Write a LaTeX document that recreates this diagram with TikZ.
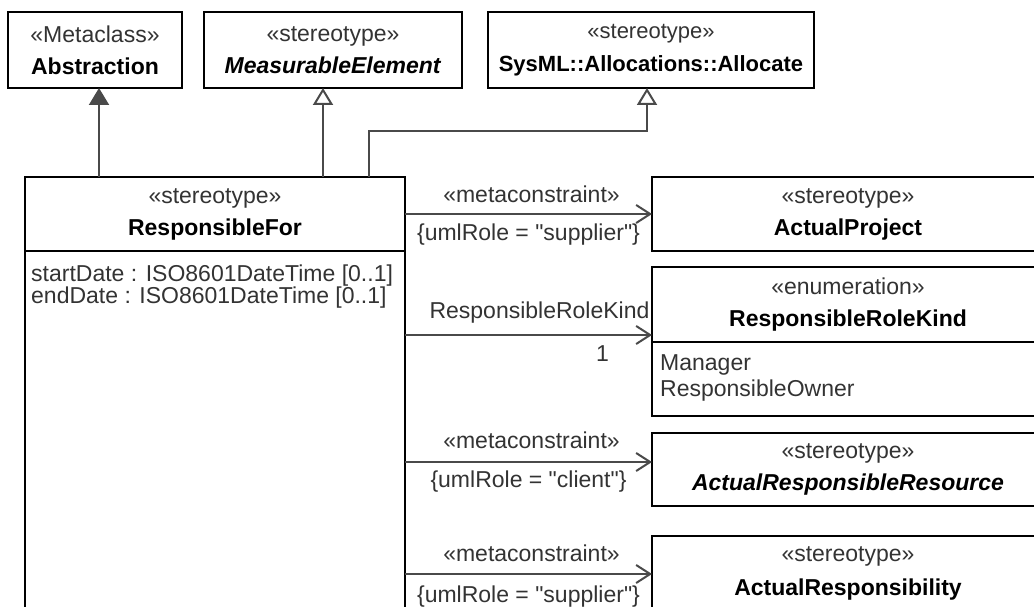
\documentclass[tikz,border=0pt]{standalone}
\usepackage{fontspec}
\setmainfont{Liberation Sans}
\newfontfamily\plainqf{Liberation Sans}
\usetikzlibrary{arrows.meta}
\definecolor{linegray}{HTML}{4A4A4A}
\definecolor{txtgray}{HTML}{333333}
\newcommand{\dq}{{\plainqf\char34}}
\begin{document}
\begin{tikzpicture}[x=1pt,y=-1pt,
  box/.style={draw=black, line width=2.2pt, fill=white, inner sep=0pt, outer sep=0pt,
    align=center, font=\fontsize{23}{32}\selectfont},
  txt/.style={inner sep=0pt, font=\fontsize{23}{24}\selectfont, text=txtgray},
  gen/.style={draw=linegray, line width=2pt, -{Triangle[open, length=17pt, width=20pt, fill=white]}},
  genf/.style={draw=linegray, line width=2pt, -{Triangle[length=17pt, width=20pt]}},
  assoc/.style={draw=linegray, line width=2pt, -{Straight Barb[length=14pt, width=18pt, line width=2pt]}}
]
\useasboundingbox (0,0) rectangle (1034,607);
\clip (0,0) rectangle (1034,607);
\fill[white] (0,0) rectangle (1034,607);

% top boxes
\node[box, minimum width=174pt, minimum height=76pt] (abs) at (95,50)
  {{\color{txtgray}«Metaclass»}\\\textbf{Abstraction}};
\node[box, minimum width=258pt, minimum height=76pt] (me) at (333,50)
  {{\color{txtgray}«stereotype»}\\\textbf{\itshape MeasurableElement}};
\node[box, minimum width=326pt, minimum height=76pt, font=\fontsize{22}{33}\selectfont] (alloc) at (651,50)
  {{\color{txtgray}«stereotype»}\\\textbf{SysML::Allocations::Allocate}};

% ResponsibleFor
\node[box, minimum width=380pt, minimum height=374pt] (rfbody) at (215,438) {};
\node[box, minimum width=380pt, minimum height=74pt] (rf) at (215,214)
  {{\color{txtgray}«stereotype»}\\\textbf{ResponsibleFor}};
\node[txt, anchor=base west] (attr1) at (31,281) {startDate : ISO8601DateTime [0..1]};
\node[txt, anchor=base west] (attr2) at (31,303) {endDate : ISO8601DateTime [0..1]};

% right boxes
\node[box, minimum width=392pt, minimum height=74pt] (ap) at (848,214)
  {{\color{txtgray}«stereotype»}\\\textbf{ActualProject}};
\node[box, minimum width=392pt, minimum height=74pt] (rrkbody) at (848,379) {};
\node[box, minimum width=392pt, minimum height=75pt] (rrk) at (848,304.5)
  {{\color{txtgray}«enumeration»}\\\textbf{ResponsibleRoleKind}};
\node[txt, anchor=base west] (lit1) at (660,370) {Manager};
\node[txt, anchor=base west] (lit2) at (660,396) {ResponsibleOwner};
\node[box, minimum width=392pt, minimum height=73pt] (arr) at (848,469.5)
  {{\color{txtgray}«stereotype»}\\\textbf{\itshape ActualResponsibleResource}};
\node[box, minimum width=392pt, minimum height=89pt] (aresp) at (848,580.5)
  {};
\node[txt, text=txtgray] (arespst) at (848,556) {«stereotype»};
\node[txt, text=black, font=\fontsize{23}{24}\selectfont\bfseries] (arespn) at (848,590) {ActualResponsibility};

% generalizations
\draw[genf] ([xshift=4pt]abs.south |- rf.north) -- ([xshift=4pt]abs.south);
\draw[gen] ([xshift=-10pt]me.south |- rf.north) -- ([xshift=-10pt]me.south);
\coordinate (bend) at (369,131);
\draw[gen] (bend |- rf.north) -- (bend) -- ([xshift=-4pt]alloc.south |- bend) -- ([xshift=-4pt]alloc.south);

% associations / metaconstraints
\draw[assoc] (rf.east |- ap.west) -- (ap.west)
  node[midway, txt, yshift=20pt, xshift=3pt] (m1) {«metaconstraint»}
  node[midway, txt, yshift=-21pt] (c1) {\{umlRole = \dq supplier\dq\}};
\coordinate (a2) at ([yshift=-84pt]rfbody.north east);
\draw[assoc] (a2) -- (a2 -| rrk.west)
  node[midway, txt, yshift=22pt, xshift=11pt] (m2) {ResponsibleRoleKind}
  node[pos=0.8, txt, yshift=-19pt] (mult) {1};
\coordinate (a3) at ([yshift=7.5pt]arr.west);
\draw[assoc] (rfbody.east |- a3) -- (a3)
  node[midway, txt, yshift=22pt, xshift=3pt] (m3) {«metaconstraint»}
  node[midway, txt, yshift=-20pt] (c3) {\{umlRole = \dq client\dq\}};
\coordinate (a4) at ([yshift=-38pt]aresp.north west);
\draw[assoc] (rfbody.east |- a4) -- (a4)
  node[midway, txt, yshift=21pt, xshift=3pt] (m4) {«metaconstraint»}
  node[midway, txt, yshift=-23pt] (c4) {\{umlRole = \dq supplier\dq\}};
\end{tikzpicture}
\end{document}
